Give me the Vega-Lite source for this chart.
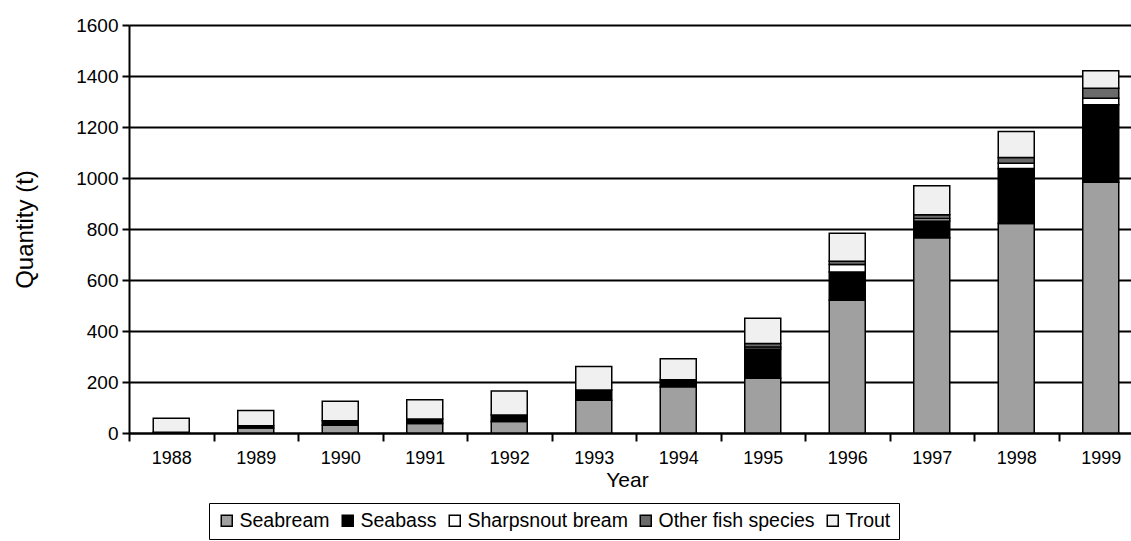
{
  "$schema": "https://vega.github.io/schema/vega-lite/v6.json",
  "autosize": {"type": "none"},
  "width": 1014,
  "height": 408,
  "padding": {"left": 129, "top": 25, "right": -12, "bottom": 108},
  "background": "white",
  "config": {
    "view": {"stroke": null},
    "font": "Liberation Sans",
    "axis": {"labelFont": "Liberation Sans", "titleFont": "Liberation Sans", "labelColor": "black", "titleColor": "black", "titleFontWeight": "normal"},
    "legend": {"labelFont": "Liberation Sans"}
  },
  "data": {
    "values": [
      {"year": "1988", "species": "Seabream", "qty": 3},
      {"year": "1988", "species": "Trout", "qty": 55},
      {"year": "1989", "species": "Seabream", "qty": 20},
      {"year": "1989", "species": "Seabass", "qty": 8},
      {"year": "1989", "species": "Trout", "qty": 60},
      {"year": "1990", "species": "Seabream", "qty": 30},
      {"year": "1990", "species": "Seabass", "qty": 18},
      {"year": "1990", "species": "Trout", "qty": 77},
      {"year": "1991", "species": "Seabream", "qty": 37},
      {"year": "1991", "species": "Seabass", "qty": 18},
      {"year": "1991", "species": "Trout", "qty": 75},
      {"year": "1992", "species": "Seabream", "qty": 45},
      {"year": "1992", "species": "Seabass", "qty": 26},
      {"year": "1992", "species": "Trout", "qty": 94},
      {"year": "1993", "species": "Seabream", "qty": 128},
      {"year": "1993", "species": "Seabass", "qty": 41},
      {"year": "1993", "species": "Trout", "qty": 92},
      {"year": "1994", "species": "Seabream", "qty": 181},
      {"year": "1994", "species": "Seabass", "qty": 28},
      {"year": "1994", "species": "Trout", "qty": 82},
      {"year": "1995", "species": "Seabream", "qty": 215},
      {"year": "1995", "species": "Seabass", "qty": 114},
      {"year": "1995", "species": "Sharpsnout bream", "qty": 8},
      {"year": "1995", "species": "Other fish species", "qty": 14},
      {"year": "1995", "species": "Trout", "qty": 99},
      {"year": "1996", "species": "Seabream", "qty": 521},
      {"year": "1996", "species": "Seabass", "qty": 110},
      {"year": "1996", "species": "Sharpsnout bream", "qty": 30},
      {"year": "1996", "species": "Other fish species", "qty": 13},
      {"year": "1996", "species": "Trout", "qty": 109},
      {"year": "1997", "species": "Seabream", "qty": 766},
      {"year": "1997", "species": "Seabass", "qty": 65},
      {"year": "1997", "species": "Sharpsnout bream", "qty": 10},
      {"year": "1997", "species": "Other fish species", "qty": 15},
      {"year": "1997", "species": "Trout", "qty": 114},
      {"year": "1998", "species": "Seabream", "qty": 822},
      {"year": "1998", "species": "Seabass", "qty": 215},
      {"year": "1998", "species": "Sharpsnout bream", "qty": 21},
      {"year": "1998", "species": "Other fish species", "qty": 22},
      {"year": "1998", "species": "Trout", "qty": 102},
      {"year": "1999", "species": "Seabream", "qty": 983},
      {"year": "1999", "species": "Seabass", "qty": 304},
      {"year": "1999", "species": "Sharpsnout bream", "qty": 26},
      {"year": "1999", "species": "Other fish species", "qty": 39},
      {"year": "1999", "species": "Trout", "qty": 69}
    ]
  },
  "transform": [
    {"calculate": "indexof(['Seabream', 'Seabass', 'Sharpsnout bream', 'Other fish species', 'Trout'], datum.species)", "as": "stackIdx"}
  ],
  "mark": {"type": "bar", "size": 36, "stroke": "black", "strokeWidth": 1.5},
  "encoding": {
    "x": {
      "field": "year", "type": "ordinal",
      "scale": {"paddingInner": 0, "paddingOuter": 0},
      "axis": {
        "title": "Year", "titleFontSize": 21, "titlePadding": 2, "titleX": 498,
        "labelAngle": 0, "labelFontSize": 18, "labelPadding": 8,
        "tickBand": "extent", "tickSize": 8, "tickWidth": 2, "tickColor": "black",
        "domainColor": "black", "domainWidth": 2, "grid": false
      }
    },
    "y": {
      "field": "qty", "type": "quantitative",
      "stack": "zero",
      "scale": {"domain": [0, 1600], "nice": false},
      "axis": {
        "title": "Quantity (t)", "titleFontSize": 24, "titlePadding": 38,
        "values": [0, 200, 400, 600, 800, 1000, 1200, 1400, 1600],
        "format": "d",
        "labelFontSize": 19, "labelPadding": 4,
        "tickSize": 7, "tickWidth": 2, "tickColor": "black",
        "domainColor": "black", "domainWidth": 2,
        "grid": true, "gridColor": "black", "gridWidth": 2
      }
    },
    "order": {"field": "stackIdx", "type": "quantitative", "sort": "ascending"},
    "color": {
      "field": "species", "type": "nominal",
      "scale": {
        "domain": ["Seabream", "Seabass", "Sharpsnout bream", "Other fish species", "Trout"],
        "range": ["#a0a0a0", "#000000", "#ffffff", "#6a6a6a", "#f0f0f0"]
      },
      "legend": {
        "title": null, "orient": "none", "legendX": 80, "legendY": 478,
        "direction": "horizontal", "columns": 5, "gridAlign": "none",
        "columnPadding": 8, "padding": 8,
        "strokeColor": "black", "fillColor": "white",
        "symbolType": "square", "symbolSize": 121, "symbolStrokeColor": "black", "symbolStrokeWidth": 1.5,
        "symbolOpacity": 1,
        "labelFontSize": 19.5, "labelColor": "black", "labelOffset": 3, "labelLimit": 300
      }
    }
  }
}
